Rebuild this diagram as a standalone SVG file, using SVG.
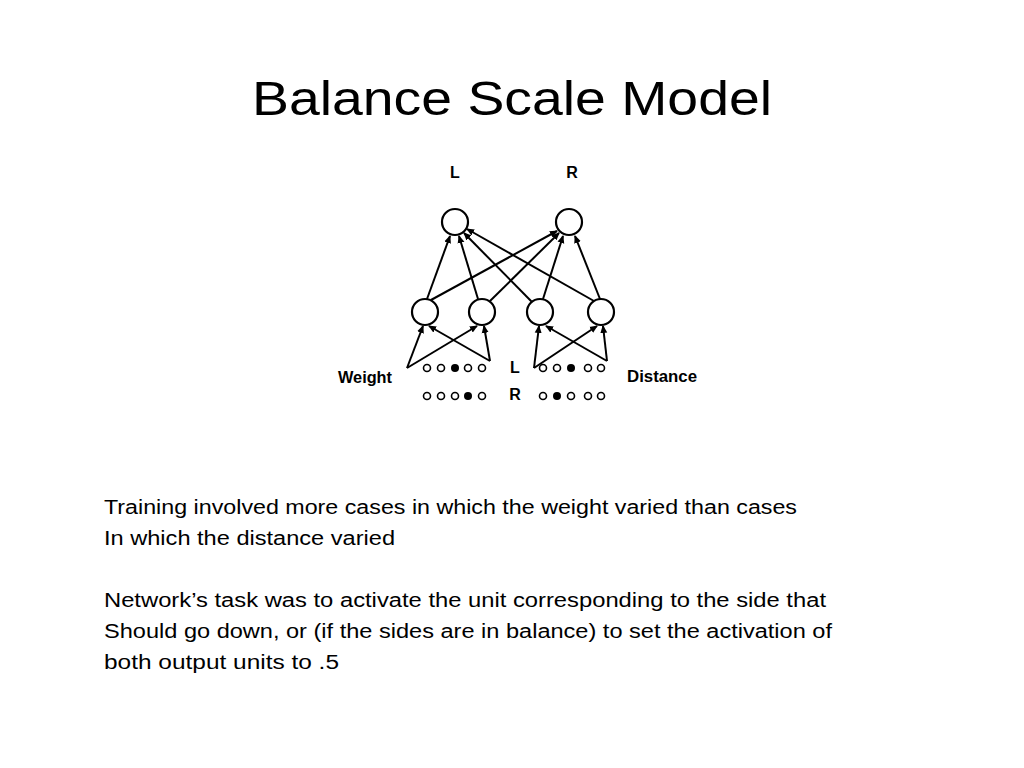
<svg xmlns="http://www.w3.org/2000/svg" width="1024" height="768" viewBox="0 0 1024 768">
<style>
.t{font-family:"Liberation Sans",Arial,sans-serif;fill:#000}
.b{font-family:"Liberation Sans",Arial,sans-serif;font-weight:bold;fill:#000}
.n{fill:#fff;stroke:#000;stroke-width:2.2}
.e{stroke:#000;stroke-width:2;fill:none;marker-end:url(#a)}
.d{fill:#fff;stroke:#000;stroke-width:1.6}
.f{fill:#000}
</style>
<defs><marker id="a" markerWidth="8" markerHeight="8" refX="7" refY="4" orient="auto" markerUnits="userSpaceOnUse"><path d="M0,0.5 L8,4 L0,7.5 z" fill="#000"/></marker></defs>
<rect width="1024" height="768" fill="#fff"/>
<text class="t" x="512" y="115" font-size="48" text-anchor="middle" textLength="520" lengthAdjust="spacingAndGlyphs">Balance Scale Model</text>
<g id="connectors">
<line class="e" x1="427" y1="299" x2="450" y2="236"/>
<line class="e" x1="431" y1="300" x2="557" y2="231"/>
<line class="e" x1="478" y1="299" x2="459" y2="236"/>
<line class="e" x1="490" y1="301" x2="559" y2="233"/>
<line class="e" x1="532" y1="302" x2="464" y2="233"/>
<line class="e" x1="543" y1="299" x2="563" y2="236"/>
<line class="e" x1="594" y1="301" x2="467" y2="229"/>
<line class="e" x1="600" y1="299" x2="575" y2="236"/>
<line class="e" x1="407" y1="368" x2="423" y2="326"/>
<line class="e" x1="407" y1="368" x2="477" y2="326"/>
<line class="e" x1="490" y1="361" x2="429" y2="326"/>
<line class="e" x1="490" y1="361" x2="484" y2="326"/>
<line class="e" x1="534" y1="368" x2="539" y2="326"/>
<line class="e" x1="534" y1="368" x2="597" y2="326"/>
<line class="e" x1="607" y1="361" x2="546" y2="326"/>
<line class="e" x1="607" y1="361" x2="603" y2="326"/>
</g>
<g id="out-L"><circle class="n" cx="455" cy="222" r="13"/><text class="b" x="455" y="178" font-size="16" text-anchor="middle">L</text></g>
<g id="out-R"><circle class="n" cx="569" cy="222" r="13"/><text class="b" x="572" y="178" font-size="16" text-anchor="middle">R</text></g>
<g id="h1"><circle class="n" cx="425" cy="312" r="13"/></g>
<g id="h2"><circle class="n" cx="482" cy="312" r="13"/></g>
<g id="h3"><circle class="n" cx="540" cy="312" r="13"/></g>
<g id="h4"><circle class="n" cx="601" cy="312" r="13"/></g>
<g id="inputs">
<text class="b" x="338" y="383" font-size="16" textLength="54" lengthAdjust="spacingAndGlyphs">Weight</text>
<text class="b" x="627" y="382" font-size="16" textLength="70" lengthAdjust="spacingAndGlyphs">Distance</text>
<text class="b" x="515" y="373" font-size="16" text-anchor="middle">L</text>
<text class="b" x="515" y="400" font-size="16" text-anchor="middle">R</text>
<circle class="d" cx="427" cy="368" r="3.5"/><circle class="d" cx="441" cy="368" r="3.5"/><circle class="f" cx="455" cy="368" r="4"/><circle class="d" cx="468" cy="368" r="3.5"/><circle class="d" cx="482" cy="368" r="3.5"/>
<circle class="d" cx="427" cy="396" r="3.5"/><circle class="d" cx="441" cy="396" r="3.5"/><circle class="d" cx="455" cy="396" r="3.5"/><circle class="f" cx="468" cy="396" r="4"/><circle class="d" cx="482" cy="396" r="3.5"/>
<circle class="d" cx="543" cy="368" r="3.5"/><circle class="d" cx="557" cy="368" r="3.5"/><circle class="f" cx="571" cy="368" r="4"/><circle class="d" cx="588" cy="368" r="3.5"/><circle class="d" cx="601" cy="368" r="3.5"/>
<circle class="d" cx="543" cy="396" r="3.5"/><circle class="f" cx="557" cy="396" r="4"/><circle class="d" cx="571" cy="396" r="3.5"/><circle class="d" cx="588" cy="396" r="3.5"/><circle class="d" cx="601" cy="396" r="3.5"/>
</g>
<g class="t" font-size="20">
<text x="104" y="514" textLength="693" lengthAdjust="spacingAndGlyphs">Training involved more cases in which the weight varied than cases</text>
<text x="104" y="545" textLength="291" lengthAdjust="spacingAndGlyphs">In which the distance varied</text>
<text x="104" y="607" textLength="722" lengthAdjust="spacingAndGlyphs">Network’s task was to activate the unit corresponding to the side that</text>
<text x="104" y="638" textLength="728" lengthAdjust="spacingAndGlyphs">Should go down, or (if the sides are in balance) to set the activation of</text>
<text x="104" y="669" textLength="235" lengthAdjust="spacingAndGlyphs">both output units to .5</text>
</g>
</svg>
